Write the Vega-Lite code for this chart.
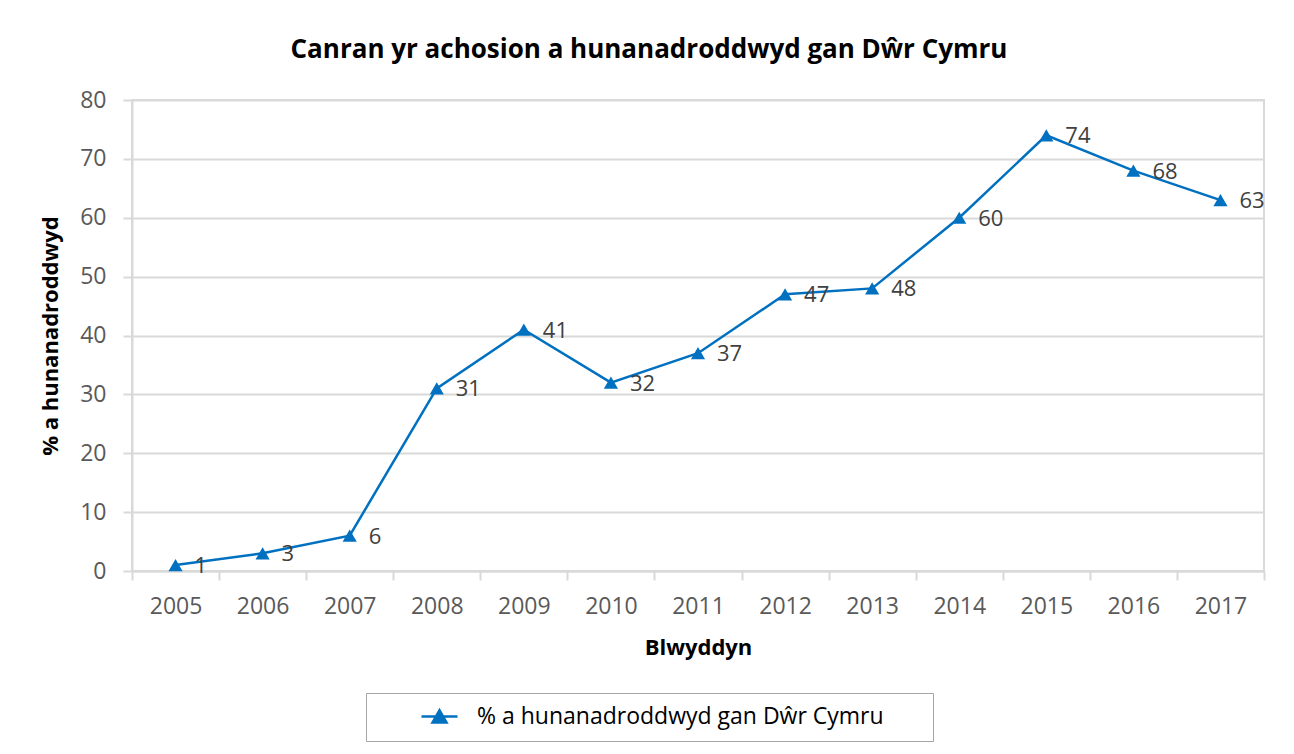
{
  "$schema": "https://vega.github.io/schema/vega-lite/v6.json",
  "width": 1132,
  "height": 471,
  "autosize": {"type": "none"},
  "padding": {"left": 132, "top": 100, "right": 30, "bottom": 183},
  "background": "white",
  "title": {
    "text": "Canran yr achosion a hunanadroddwyd gan Dŵr Cymru",
    "font": "Open Sans",
    "fontSize": 26,
    "fontWeight": "bold",
    "color": "#000000",
    "anchor": "middle",
    "dx": -49,
    "baseline": "bottom",
    "offset": 0
  },
  "data": {
    "values": [
      {"year": "2005", "pct": 1, "series": "% a hunanadroddwyd gan Dŵr Cymru"},
      {"year": "2006", "pct": 3, "series": "% a hunanadroddwyd gan Dŵr Cymru"},
      {"year": "2007", "pct": 6, "series": "% a hunanadroddwyd gan Dŵr Cymru"},
      {"year": "2008", "pct": 31, "series": "% a hunanadroddwyd gan Dŵr Cymru"},
      {"year": "2009", "pct": 41, "series": "% a hunanadroddwyd gan Dŵr Cymru"},
      {"year": "2010", "pct": 32, "series": "% a hunanadroddwyd gan Dŵr Cymru"},
      {"year": "2011", "pct": 37, "series": "% a hunanadroddwyd gan Dŵr Cymru"},
      {"year": "2012", "pct": 47, "series": "% a hunanadroddwyd gan Dŵr Cymru"},
      {"year": "2013", "pct": 48, "series": "% a hunanadroddwyd gan Dŵr Cymru"},
      {"year": "2014", "pct": 60, "series": "% a hunanadroddwyd gan Dŵr Cymru"},
      {"year": "2015", "pct": 74, "series": "% a hunanadroddwyd gan Dŵr Cymru"},
      {"year": "2016", "pct": 68, "series": "% a hunanadroddwyd gan Dŵr Cymru"},
      {"year": "2017", "pct": 63, "series": "% a hunanadroddwyd gan Dŵr Cymru"}
    ]
  },
  "encoding": {
    "x": {
      "field": "year",
      "type": "nominal",
      "sort": null,
      "scale": {"type": "band", "paddingInner": 0, "paddingOuter": 0},
      "axis": {
        "title": "Blwyddyn",
        "labelAngle": 0,
        "bandPosition": 0,
        "tickBand": "extent",
        "grid": false,
        "domainColor": "#d9d9d9",
        "domainWidth": 2,
        "tickColor": "#d9d9d9",
        "tickWidth": 2,
        "tickSize": 9,
        "labelFont": "Open Sans",
        "labelFontSize": 23,
        "labelColor": "#595959",
        "labelPadding": 15,
        "titleFont": "Open Sans",
        "titleFontSize": 22,
        "titleFontWeight": "bold",
        "titleColor": "#000000",
        "titlePadding": 19
      }
    },
    "y": {
      "field": "pct",
      "type": "quantitative",
      "scale": {"domain": [0, 80], "nice": false},
      "axis": {
        "title": "% a hunanadroddwyd",
        "values": [0, 10, 20, 30, 40, 50, 60, 70, 80],
        "grid": true,
        "gridColor": "#d9d9d9",
        "gridWidth": 2,
        "domainColor": "#d9d9d9",
        "domainWidth": 2,
        "tickColor": "#d9d9d9",
        "tickWidth": 2,
        "tickSize": 9,
        "labelFont": "Open Sans",
        "labelFontSize": 23,
        "labelColor": "#595959",
        "labelPadding": 17,
        "titleFont": "Open Sans",
        "titleFontSize": 22,
        "titleFontWeight": "bold",
        "titleColor": "#000000",
        "titlePadding": 17
      }
    }
  },
  "layer": [
    {
      "mark": {"type": "line", "strokeWidth": 2.5},
      "encoding": {
        "color": {
          "field": "series",
          "type": "nominal",
          "scale": {"range": ["#0070C0"]},
          "legend": {
            "title": "\u00a0",
            "titleOrient": "right",
            "titlePadding": 37,
            "titleFontSize": 8,
            "orient": "none",
            "legendX": 234,
            "legendY": 593,
            "padding": 12,
            "strokeColor": "#a6a6a6",
            "symbolType": "M-1.8,0H1.8M-0.7,0.6L0,-0.62L0.7,0.6Z",
            "symbolSize": 400,
            "symbolStrokeWidth": 2.5,
            "symbolFillColor": "#0070C0",
            "symbolStrokeColor": "#0070C0",
            "symbolOffset": 50,
            "labelFont": "Open Sans",
            "labelFontSize": 23,
            "labelColor": "#000000",
            "labelLimit": 800,
            "labelOffset": 26
          }
        }
      }
    },
    {
      "mark": {"type": "point", "shape": "triangle-up", "filled": true, "size": 200, "opacity": 1, "color": "#0070C0"}
    },
    {
      "mark": {"type": "text", "align": "left", "baseline": "middle", "dx": 19, "dy": 1, "font": "Open Sans", "fontSize": 22, "color": "#404040"},
      "encoding": {"text": {"field": "pct", "type": "quantitative"}}
    }
  ],
  "config": {
    "view": {"stroke": "#d9d9d9", "strokeWidth": 2}
  }
}
